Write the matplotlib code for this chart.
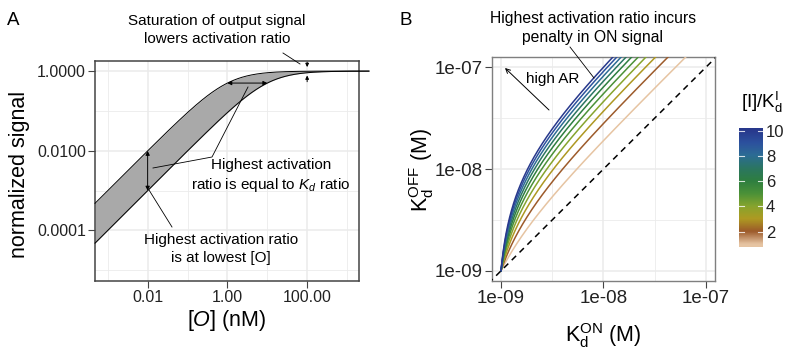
import numpy as np
import matplotlib
matplotlib.use("Agg")
import matplotlib.pyplot as plt
from matplotlib.colors import LinearSegmentedColormap, Normalize

plt.rcParams["font.family"] = ["Liberation Sans", "DejaVu Sans"]
plt.rcParams["mathtext.fontset"] = "custom"
plt.rcParams["mathtext.rm"] = "Liberation Sans"
plt.rcParams["mathtext.it"] = "Liberation Sans:italic"

# ---- panel A: binding curves bounding the grey band (Kd in nM)
kd_band = [1.0, 10.0]
o_span = [10 ** -3.32, 10 ** 3.55]
a_xticks = [0.01, 1, 100]
a_xlabels = ["0.01", "1.00", "100.00"]
a_yticks = [1e-4, 1e-2, 1]
a_ylabels = ["0.0001", "0.0100", "1.0000"]

# ---- panel B: K_d^OFF vs K_d^ON for several [I]/K_d^I levels
ratio_levels = [1, 2, 3, 4, 5, 6, 7, 8, 9, 10]
kd_min = 1e-9
kon_span = [1e-9, 1.3e-7]
b_ticks = [1e-9, 1e-8, 1e-7]
b_labels = ["1e-09", "1e-08", "1e-07"]
cbar_ticks = [2, 4, 6, 8, 10]
cmap_colors = ["#E6C4A2", "#9C5A2A", "#AE9A22", "#86A42E", "#4A9138",
               "#2E7E40", "#2B7662", "#2C6C94", "#2C519E", "#28388C"]

W, H = 791, 350
def P(px, py):
    return px / W, 1 - py / H

GRID = "#EBEBEB"
fig = plt.figure(figsize=(W / 100, H / 100), dpi=100)

# ================= panel A =================
axA = fig.add_axes([95 / W, 1 - 281 / H, 264 / W, 220 / H])
axA.set_xscale("log")
axA.set_yscale("log")
o = np.logspace(np.log10(o_span[0]), np.log10(o_span[1]), 400)
up = o / (o + kd_band[0])
lo = o / (o + kd_band[1])
axA.fill_between(o, lo, up, color="#A9A9A9", lw=0, clip_on=False, zorder=2)
axA.plot(o, up, color="black", lw=0.7, clip_on=False, zorder=3)
axA.plot(o, lo, color="black", lw=0.7, clip_on=False, zorder=3)
axA.set_xlim(10 ** -3.32, 10 ** 3.3)
axA.set_ylim(10 ** -5.27, 10 ** 0.253)
axA.set_xticks(a_xticks)
axA.set_xticklabels(a_xlabels)
axA.set_yticks(a_yticks)
axA.set_yticklabels(a_ylabels)
axA.set_xticks([1e-3, 1e-1, 10, 1e3], minor=True)
axA.set_yticks([1e-5, 1e-3, 1e-1], minor=True)
axA.set_xticklabels([], minor=True)
axA.set_yticklabels([], minor=True)
axA.tick_params(which="minor", length=0)
axA.tick_params(which="major", length=5, width=0.8, color="#444444",
                labelsize=11.5, labelcolor="#222222", pad=1.5)
axA.grid(True, which="major", color=GRID, lw=1.1, zorder=0)
axA.grid(True, which="minor", color=GRID, lw=0.6, zorder=0)
axA.set_axisbelow(True)
for s in axA.spines.values():
    s.set_color("#444444")
    s.set_linewidth(1.1)

ah = dict(arrowstyle="<|-|>", color="black", lw=0.7, mutation_scale=6,
          shrinkA=0, shrinkB=0)
# vertical arrow at lowest [O]
axA.annotate("", xy=(0.01, 0.01 / (0.01 + kd_band[0])),
             xytext=(0.01, 0.01 / (0.01 + kd_band[1])), arrowprops=ah)
# horizontal arrow at half signal
axA.annotate("", xy=(kd_band[0], 0.5), xytext=(kd_band[1], 0.5), arrowprops=ah)
# saturation arrows at 100 nM
one = dict(arrowstyle="-|>", color="black", lw=0.7, mutation_scale=5,
           shrinkA=0, shrinkB=0)
axA.annotate("", xy=(100, 100 / (100 + kd_band[0])), xytext=(0, 9),
             textcoords="offset pixels", arrowprops=dict(one, shrinkB=3))
axA.annotate("", xy=(100, 100 / (100 + kd_band[1])), xytext=(0, -9),
             textcoords="offset pixels", arrowprops=dict(one, shrinkB=2))

fig.text(*P(217, 30), "Saturation of output signal\nlowers activation ratio",
         ha="center", va="center", fontsize=11, linespacing=1.35)
fig.add_artist(plt.Line2D(*zip(P(283, 53), P(300, 64)), color="black", lw=0.6))

fig.text(*P(271, 176), "Highest activation\nratio is equal to $K_d$ ratio",
         ha="center", va="center", fontsize=11, linespacing=1.35)
fig.add_artist(plt.Line2D(*zip(P(153, 168), P(212, 157), P(248, 87)),
                          color="black", lw=0.6))

fig.text(*P(221, 249), "Highest activation ratio\nis at lowest [O]",
         ha="center", va="center", fontsize=11, linespacing=1.35)
fig.add_artist(plt.Line2D(*zip(P(172, 227), P(149, 190)), color="black", lw=0.6))

fig.text(*P(20, 174), "normalized signal", rotation=90, ha="center",
         va="center", fontsize=15.5)
fig.text(*P(227, 326), "[$\\mathit{O}$] (nM)", ha="center", va="baseline",
         fontsize=15.5)
fig.text(*P(7, 25), "A", fontsize=13.5, va="baseline")

# ================= panel B =================
axB = fig.add_axes([492 / W, 1 - 281 / H, 223 / W, 224 / H])
axB.set_xscale("log")
axB.set_yscale("log")
cmap = LinearSegmentedColormap.from_list("earth", cmap_colors)
norm = Normalize(1, 10)
kon = np.logspace(np.log10(kon_span[0]), np.log10(kon_span[1]), 600)
for r in ratio_levels:
    koff = kon * (1 + r) - r * kd_min
    axB.plot(kon, koff, color=cmap(norm(r)), lw=1.1, zorder=3)
lim = [10 ** -9.2, 10 ** -6.8]
axB.plot(lim, lim, color="black", lw=1.1, dashes=(4, 3.2), zorder=4)
axB.set_xlim(10 ** -9.088, 10 ** -6.912)
axB.set_ylim(10 ** -9.1, 10 ** -6.9)
axB.set_xticks(b_ticks)
axB.set_xticklabels(b_labels)
axB.set_yticks(b_ticks)
axB.set_yticklabels(b_labels)
axB.set_xticks([10 ** -8.5, 10 ** -7.5], minor=True)
axB.set_yticks([10 ** -8.5, 10 ** -7.5], minor=True)
axB.set_xticklabels([], minor=True)
axB.set_yticklabels([], minor=True)
axB.tick_params(which="minor", length=0)
axB.tick_params(which="major", length=5, width=0.8, color="#444444",
                labelsize=13.5, labelcolor="#222222", pad=1.5)
axB.grid(True, which="major", color=GRID, lw=1.1, zorder=0)
axB.grid(True, which="minor", color=GRID, lw=0.6, zorder=0)
axB.set_axisbelow(True)
for s in axB.spines.values():
    s.set_color("#7F7F7F")
    s.set_linewidth(1.0)

fig.text(*P(593, 28), "Highest activation ratio incurs\npenalty in ON signal",
         ha="center", va="center", fontsize=11.3, linespacing=1.35)
fig.add_artist(plt.Line2D(*zip(P(570, 47), P(594, 78)), color="black", lw=0.6))
fig.text(*P(553, 79), "high AR", ha="center", va="center", fontsize=11)
axB.annotate("", xy=P(505, 68), xycoords="figure fraction",
             xytext=P(549, 110), textcoords="figure fraction",
             arrowprops=dict(arrowstyle="->", color="black", lw=0.7,
                             mutation_scale=8, shrinkA=0, shrinkB=0))

fig.text(*P(422, 170), "$\\mathregular{K_d^{OFF}}$ (M)", rotation=90,
         ha="center", va="center", fontsize=15.5)
fig.text(*P(603, 342), "$\\mathregular{K_d^{ON}}$ (M)", ha="center",
         va="baseline", fontsize=15.5)
fig.text(*P(400, 25), "B", fontsize=13.5, va="baseline")

# colour bar legend
cax = fig.add_axes([739 / W, 1 - 247 / H, 24 / W, 119 / H])
grad = np.linspace(0.8, 10.2, 200).reshape(-1, 1)
cax.imshow(grad, extent=[0, 1, 0.8, 10.2], origin="lower", aspect="auto",
           cmap=cmap, norm=norm)
for t in cbar_ticks:
    cax.plot([0, 0.2], [t, t], color="white", lw=0.8, alpha=0.8)
    cax.plot([0.8, 1], [t, t], color="white", lw=0.8, alpha=0.8)
cax.set_xlim(0, 1)
cax.set_ylim(0.8, 10.2)
cax.set_xticks([])
cax.yaxis.tick_right()
cax.set_yticks(cbar_ticks)
cax.tick_params(axis="y", length=0, labelsize=12, pad=2, labelcolor="#222222")
for s in cax.spines.values():
    s.set_visible(False)
fig.text(*P(741, 108), "[I]/$\\mathregular{K_d^I}$", fontsize=13.5,
         va="baseline", ha="left")

fig.savefig("out.png", dpi=100)
